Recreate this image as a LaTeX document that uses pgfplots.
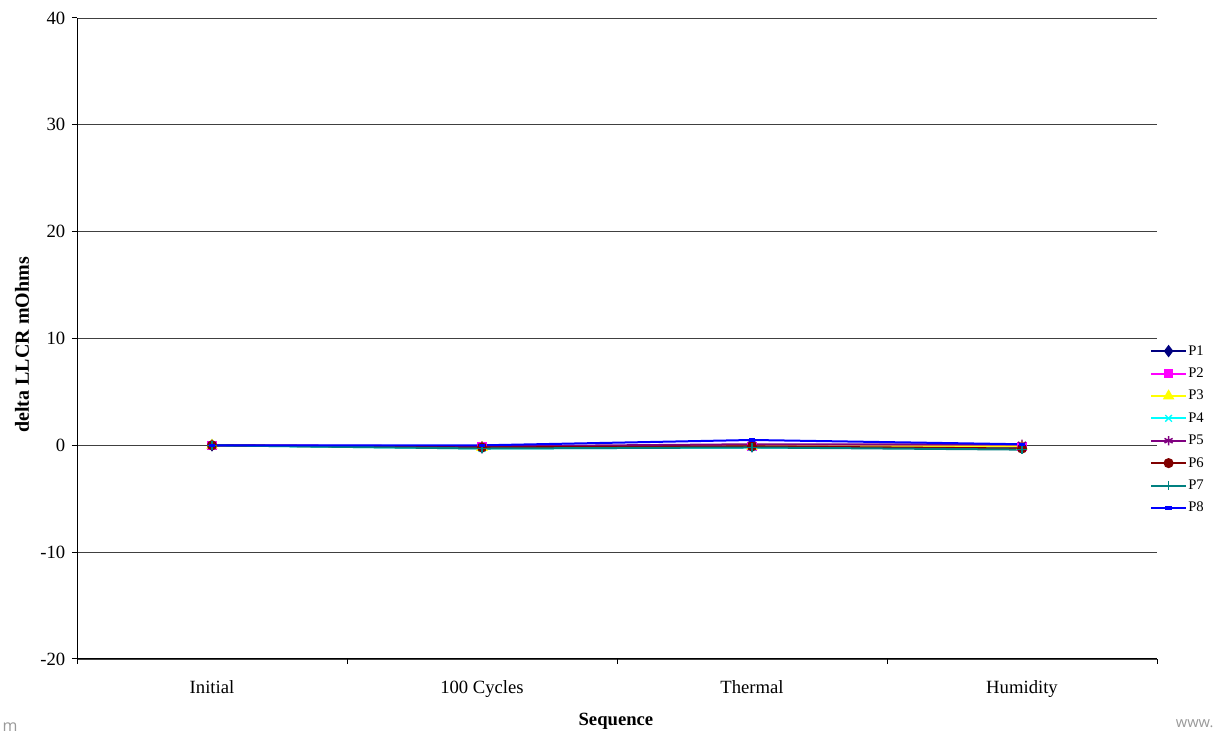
\documentclass[border=0pt]{standalone}
\usepackage{pgfplots}
\pgfplotsset{compat=1.18}
\usepackage{fontspec}
\setmainfont{Liberation Serif}
\newfontfamily\wmfont{Open Sans}
\definecolor{cP1}{RGB}{0,0,128}
\definecolor{cP2}{RGB}{255,0,255}
\definecolor{cP3}{RGB}{255,255,0}
\definecolor{cP4}{RGB}{0,255,255}
\definecolor{cP5}{RGB}{128,0,128}
\definecolor{cP6}{RGB}{128,0,0}
\definecolor{cP7}{RGB}{0,128,128}
\definecolor{cP8}{RGB}{0,0,255}
\begin{document}
\begin{tikzpicture}
\begin{axis}[
  scale only axis, width=810pt, height=480.75pt,
  xmin=-0.5, xmax=3.5, ymin=-20, ymax=40,
  ytick={-20,-10,...,40},
  xtick={0,1,2,3},
  xticklabels={Initial,100 Cycles,Thermal,Humidity},
  minor xtick={-0.5,0.5,1.5,2.5,3.5},
  major x tick style={draw=none},
  major tick length=3.75pt, minor tick length=3.75pt,
  tick align=outside,
  axis x line*=bottom, axis y line*=left,
  axis line style={-, black, line width=0.75pt},
  tick style={black, line width=0.75pt},
  ymajorgrids, grid style={black!75, line width=0.6pt},
  /pgf/number format/assume math mode=true,
  tick label style={font=\fontsize{14}{16}\selectfont},
  xticklabel style={anchor=base, yshift=-22.5pt},
  yticklabel style={xshift=-1.5pt},
  xlabel={Sequence}, ylabel={delta LLCR mOhms},
  xlabel style={font=\fontsize{14}{16}\selectfont\bfseries,
    at={(axis description cs:0.499,-0.103)}, anchor=base},
  ylabel style={font=\fontsize{15}{17}\selectfont\bfseries,
    at={(axis description cs:-0.0509,0.49)}, anchor=center, rotate=0},
  legend style={at={(axis description cs:0.9935,0.358)}, anchor=west,
    draw=none, fill=none, font=\fontsize{11}{13}\selectfont,
    row sep=4.8pt, inner sep=0pt,
    nodes={inner sep=1pt, text height=8pt, text depth=2pt}},
  legend cell align=left,
  legend image code/.code={\draw[mark repeat=2,mark phase=2] plot coordinates {(0pt,0pt)(13pt,0pt)(26pt,0pt)};},
  every axis plot/.append style={line width=1.5pt, mark options={solid}},
  clip=false,
]
\addplot[cP1, mark=diamond*, mark size=3.5pt] coordinates {(0,0) (1,-0.2) (2,-0.1) (3,-0.2)};
\addlegendentry{P1}
\addplot[cP2, mark=square*, mark size=2.8pt] coordinates {(0,0) (1,-0.1) (2,-0.1) (3,-0.1)};
\addlegendentry{P2}
\addplot[cP3, mark=triangle*, mark size=3.5pt] coordinates {(0,0) (1,-0.2) (2,-0.1) (3,-0.1)};
\addlegendentry{P3}
\addplot[cP4, mark=x, mark size=3.5pt, mark options={line width=1pt}] coordinates {(0,0) (1,-0.3) (2,-0.2) (3,-0.3)};
\addlegendentry{P4}
\addplot[cP5, mark=asterisk, mark size=3.5pt, mark options={line width=1.1pt}] coordinates {(0,0) (1,-0.1) (2,0.1) (3,0.1)};
\addlegendentry{P5}
\addplot[cP6, mark=*, mark size=3pt] coordinates {(0,0) (1,-0.2) (2,-0.1) (3,-0.3)};
\addlegendentry{P6}
\addplot[cP7, mark=+, mark size=3.5pt, mark options={line width=1pt}] coordinates {(0,0) (1,-0.3) (2,-0.2) (3,-0.4)};
\addlegendentry{P7}
\addplot[cP8, mark=-, mark size=2.4pt, mark options={line width=2.4pt}] coordinates {(0,0) (1,0.0) (2,0.5) (3,0.1)};
\addlegendentry{P8}
\end{axis}
\node[anchor=south west, inner sep=0pt, text=black!40, font=\wmfont\fontsize{12}{12}\selectfont] at ([shift={(-56pt,-54.5pt)}]current axis.south west) {m};
\node[anchor=south east, inner sep=0pt, text=black!40, font=\wmfont\fontsize{11}{11}\selectfont] at ([shift={(42.5pt,-52pt)}]current axis.south east) {www.};
\pgfresetboundingbox
\path ([shift={(-57.75pt,-55.5pt)}]current axis.south west) rectangle ([shift={(43.5pt,13.5pt)}]current axis.north east);
\end{tikzpicture}
\end{document}
